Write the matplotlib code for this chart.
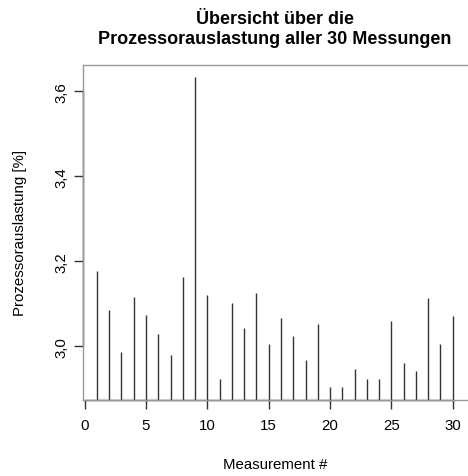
import numpy as np
import matplotlib
matplotlib.use("Agg")
import matplotlib.pyplot as plt

plt.rcParams['font.family'] = ['Liberation Sans', 'DejaVu Sans']

messung = np.arange(1, 31)
auslastung = [3.177, 3.085, 2.988, 3.117, 3.075, 3.029, 2.980, 3.163, 3.633, 3.122,
              2.923, 3.103, 3.044, 3.126, 3.006, 3.067, 3.025, 2.969, 3.053, 2.904,
              2.904, 2.947, 2.923, 2.923, 3.061, 2.961, 2.942, 3.113, 3.006, 3.071]
xticks = [0, 5, 10, 15, 20, 25, 30]
yticks = [3.0, 3.2, 3.4, 3.6]
ylabels = ["3,0", "3,2", "3,4", "3,6"]

W, H = 468, 477
fig = plt.figure(figsize=(W / 100, H / 100), dpi=100)
# Plotbereich in Pixeln: links 82.7, rechts 467, oben 66, unten 400.7
ax = fig.add_axes([82.7 / W, 1 - 400.7 / H, (467 - 82.7) / W, (400.7 - 66) / H])

ax.vlines(messung, 0, auslastung, color="#333333", lw=1)

# R-style Achsenbereich (4% Erweiterung)
lo, hi = min(auslastung), max(auslastung)
r = hi - lo
ax.set_ylim(lo - 0.04 * r, hi + 0.04 * r)
ax.set_xlim(1 - 0.04 * 29, 30 + 0.04 * 29)

for s in ax.spines.values():
    s.set_color("#999999")
    s.set_linewidth(1)
ax.spines["right"].set_visible(False)

# Achsenlinien nur über den Tickbereich
ax.plot([0, 30], [ax.get_ylim()[0]] * 2, color="#333333", lw=1, clip_on=False)
ax.plot([ax.get_xlim()[0]] * 2, [3.0, 3.6], color="#333333", lw=1, clip_on=False)

ax.set_xticks(xticks)
ax.set_yticks(yticks)
ax.set_yticklabels(ylabels, rotation=90, va="center")
ax.tick_params(axis="both", length=6.5, width=1, color="#333333", labelsize=10.8)
ax.tick_params(axis="x", pad=7)
ax.tick_params(axis="y", pad=4)

ax.set_xlabel("Measurement #", fontsize=10.8)
ax.xaxis.label.set_va("center")
ax.xaxis.set_label_coords(0.5, -64.3 / 334.7)
ax.set_ylabel("Prozessorauslastung [%]", fontsize=10.8)
ax.yaxis.label.set_va("center")
ax.yaxis.set_label_coords(-62.7 / 384.3, 0.5)

xc = (82.7 + 467) / 2 / W
fig.text(xc, 1 - 20 / H, "Übersicht über die", ha="center", va="center",
         fontsize=13, fontweight="bold")
fig.text(xc, 1 - 40 / H, "Prozessorauslastung aller 30 Messungen", ha="center",
         va="center", fontsize=13, fontweight="bold")

fig.savefig("out.png", dpi=100)
